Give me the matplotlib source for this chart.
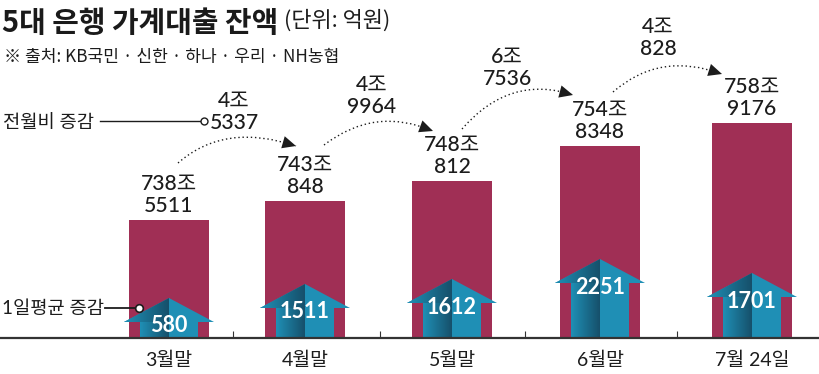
import numpy as np
import matplotlib
matplotlib.use('Agg')
import matplotlib.pyplot as plt
from matplotlib.patches import Polygon, PathPatch, FancyArrowPatch
from matplotlib.path import Path

plt.rcParams['font.family'] = ['Lato', 'Noto Sans CJK KR', 'DejaVu Sans']

months = ['3월말', '4월말', '5월말', '6월말', '7월 24일']
balance_labels = ['738조\n5511', '743조\n848', '748조\n812', '754조\n8348', '758조\n9176']
change_labels = ['4조\n5337', '4조\n9964', '6조\n7536', '4조\n828']
daily_labels = ['580', '1511', '1612', '2251', '1701']
# heights as drawn in the original, the bars there are not to scale
bar_heights = [118, 137, 157, 192.5, 215]
arrow_heights = [40, 54, 59, 79, 65]

bar_x = [169, 305, 452, 600, 752]
tick_x = [233, 380, 525, 677]
change_x = [234, 372, 507, 658]
change_y = [226, 242, 270, 300]
curves = [[(178, 175), (225, 216), (296, 192)],
          [(324, 193), (375, 232), (433, 207)],
          [(462, 209), (510, 264), (573, 243)],
          [(613, 246), (660, 287), (722, 264)]]

RED = '#a02f55'
TEAL = '#1f8fb5'
DARK = '#16506b'
INK = '#1c1c1c'


def draw_house(ax, xc, h):
    # up arrow, right half flat, left half shaded towards the middle
    head = 24
    wing = 45
    shaft = 29
    pts = [(xc - shaft, 0), (xc - shaft, h - head), (xc - wing, h - head), (xc, h),
           (xc + wing, h - head), (xc + shaft, h - head), (xc + shaft, 0)]
    ax.add_patch(Polygon(pts, closed=True, fc=TEAL, ec='none', zorder=3))
    left = Polygon(pts[:2] + [(xc, h - head), (xc, 0)], closed=True, fc='none', ec='none', zorder=3)
    ax.add_patch(left)
    cmap = matplotlib.colors.LinearSegmentedColormap.from_list('sh', [TEAL, DARK])
    im = ax.imshow(np.linspace(0, 1, 64).reshape(1, -1), cmap=cmap, aspect='auto',
                   extent=[xc - shaft, xc, 0, h], zorder=3.5)
    im.set_clip_path(left)
    wing_part = Polygon([(xc - wing, h - head), (xc, h), (xc, h - head)], closed=True,
                        fc='none', ec='none')
    ax.add_patch(wing_part)
    im2 = ax.imshow(np.linspace(0, 1, 64).reshape(1, -1), cmap=cmap, aspect='auto',
                    extent=[xc - wing, xc, h - head, h], zorder=3.5)
    im2.set_clip_path(wing_part)


fig = plt.figure(figsize=(8.19, 3.74), dpi=100)
ax = fig.add_axes([0, 0, 1, 1])

ax.bar(bar_x, bar_heights, width=80, color=RED, zorder=2)
for x, h, lab in zip(bar_x, bar_heights, balance_labels):
    ax.text(x, h + 4, lab, ha='center', va='bottom', fontsize=15.2, color=INK,
            fontweight='medium', linespacing=1.12)

for x, h, lab in zip(bar_x, arrow_heights, daily_labels):
    draw_house(ax, x, h)
    ax.text(x, h - 28, lab, ha='center', va='center', fontsize=15.5, color='white',
            fontweight='bold', zorder=5)

for x, y, lab in zip(change_x, change_y, change_labels):
    ax.text(x, y, lab, ha='center', va='center', fontsize=15.2, color=INK,
            fontweight='medium', linespacing=1.12)

for c in curves:
    path = Path(c, [Path.MOVETO, Path.CURVE3, Path.CURVE3])
    ax.add_patch(PathPatch(path, fc='none', ec=INK, lw=1.0, ls=(0, (1, 2)), zorder=4))
    t = 0.88
    before = ((1 - t) ** 2 * c[0][0] + 2 * t * (1 - t) * c[1][0] + t ** 2 * c[2][0],
              (1 - t) ** 2 * c[0][1] + 2 * t * (1 - t) * c[1][1] + t ** 2 * c[2][1])
    ax.add_patch(FancyArrowPatch(before, c[2], arrowstyle='-|>,head_length=0.65,head_width=0.3',
                                 mutation_scale=15, color=INK, lw=0, shrinkA=0, shrinkB=0, zorder=4))

ax.axhline(0, color='#333333', lw=1.6, zorder=6)
ax.vlines(tick_x, 0, 7, color='#333333', lw=0.8)
for x, lab in zip(bar_x, months):
    ax.text(x, -22, lab, ha='center', va='center', fontsize=14, color=INK)

# leaders
ax.text(3, 216, '전월비 증감', ha='left', va='center', fontsize=13.5, color=INK)
ax.plot([100, 201], [217, 217], color=INK, lw=1)
ax.plot([204], [217], 'o', mfc='white', mec=INK, ms=5, mew=1, zorder=7)
ax.text(2, 29.5, '1일평균 증감', ha='left', va='center', fontsize=13.5, color=INK)
ax.plot([105, 136], [30, 30], color=INK, lw=1.3)
ax.plot([139], [30], 'o', mfc='white', mec=INK, ms=5.5, mew=1.2, zorder=7)

# heading
ax.text(2, 315, '5대 은행 가계대출 잔액', ha='left', va='center', fontsize=20.8, fontweight='bold',
        color='#1a1a1a', family=['Noto Sans CJK KR'])
ax.text(284, 317, '(단위: 억원)', ha='left', va='center', fontsize=15.8, color=INK,
        family=['Noto Sans CJK KR'])
ax.text(4, 281, '※ 출처: KB국민 · 신한 · 하나 · 우리 · NH농협', ha='left', va='center', fontsize=12.3,
        color=INK, family=['Noto Sans CJK KR'])

ax.set_xlim(0, 819)
ax.set_ylim(-36, 338)
ax.axis('off')
fig.savefig('out.png', dpi=100)
